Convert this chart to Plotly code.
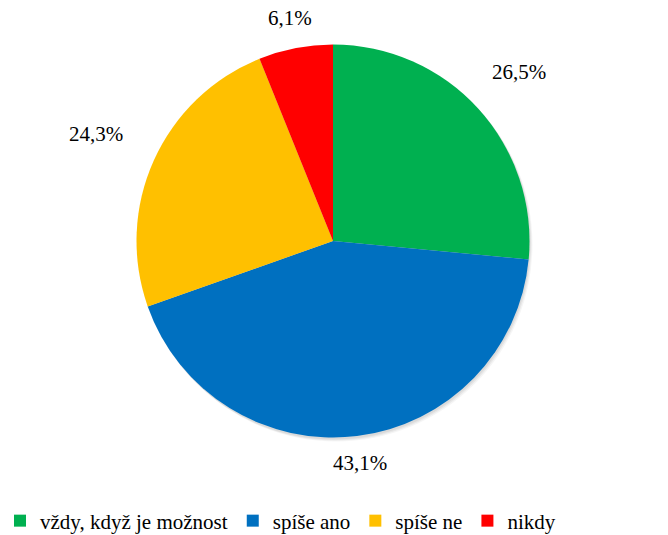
import math
import plotly.graph_objects as go

LABELS = ['vždy, když je možnost', 'spíše ano', 'spíše ne', 'nikdy']
VALUES = [26.5, 43.1, 24.3, 6.1]
COLORS = ['#00B050', '#0070C0', '#FFC000', '#FF0000']

FONT = 'Liberation Serif, Tinos, Times New Roman, serif'
W, H = 668, 535
CX, CY, R = 333, 241, 196.5  # pie centre / radius in pixels


def px_x(x):
    return x / W


def px_y(y):
    return 1 - y / H


fig = go.Figure()

# soft drop shadow under the pie
for i, op in enumerate([0.04, 0.05, 0.06]):
    off = 3 - i
    fig.add_shape(
        type='circle', xref='paper', yref='paper',
        x0=px_x(CX - R + off), x1=px_x(CX + R + off),
        y0=px_y(CY + R + off + 1), y1=px_y(CY - R + off),
        fillcolor=f'rgba(0,0,0,{op})', line=dict(width=0), layer='below',
    )

fig.add_trace(go.Pie(
    labels=LABELS,
    values=VALUES,
    sort=False,
    direction='clockwise',
    rotation=0,
    marker=dict(colors=COLORS, line=dict(color='white', width=0)),
    textinfo='none',
    domain=dict(x=[px_x(CX - R), px_x(CX + R)], y=[px_y(CY + R), px_y(CY - R)]),
    hovertemplate='<b>%{label}</b><br>%{value}<extra></extra>',
))

# percentage labels outside the slices, placed from the slice mid-angles
total = sum(VALUES)
cum = 0
for v in VALUES:
    mid = (cum + v / 2) / total * 2 * math.pi
    cum += v
    s, c = math.sin(mid), math.cos(mid)
    r = R + 22 + 45 * abs(s)
    fig.add_annotation(
        x=px_x(CX + r * s), y=px_y(CY - r * c),
        xref='paper', yref='paper',
        text=f'{v / total * 100:.1f}%'.replace('.', ','),
        showarrow=False,
        xanchor='center', yanchor='middle',
        font=dict(family=FONT, size=21, color='black'),
    )

fig.update_layout(
    width=W, height=H,
    paper_bgcolor='white',
    plot_bgcolor='white',
    font=dict(family=FONT, size=21, color='black'),
    margin=dict(l=0, r=0, t=0, b=0, autoexpand=False),
    legend=dict(
        orientation='h',
        yanchor='middle', y=px_y(521),
        xanchor='left', x=0.0,
        font=dict(family=FONT, size=21, color='black'),
        itemwidth=30,
        bgcolor='rgba(0,0,0,0)',
    ),
)

fig.write_html('out.html', post_script="document.body.style.margin='0';",
               config={'displayModeBar': False})
